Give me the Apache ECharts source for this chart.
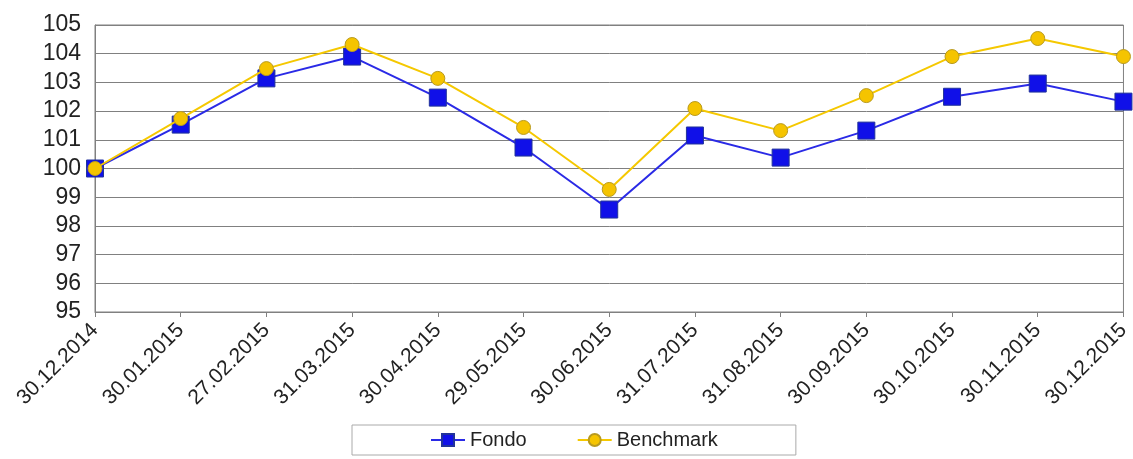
<!DOCTYPE html>
<html>
<head>
<meta charset="utf-8">
<script src="https://cdn.jsdelivr.net/npm/echarts@6/dist/echarts.min.js"></script>
<style>
  html, body { margin: 0; padding: 0; background: #fff; }
  #chart { width: 1133px; height: 459px; }
</style>
</head>
<body>
<div id="chart"></div>
<script>
// date labels
var dates = ['30.12.2014', '30.01.2015', '27.02.2015', '31.03.2015', '30.04.2015', '29.05.2015',
  '30.06.2015', '31.07.2015', '31.08.2015', '30.09.2015', '30.10.2015', '30.11.2015', '30.12.2015'];
// series values
var fondo = [100, 101.53, 103.14, 103.9, 102.47, 100.73, 98.57, 101.15, 100.38, 101.32, 102.5, 102.96, 102.33];
var benchmark = [100, 101.74, 103.48, 104.32, 103.14, 101.43, 99.27, 102.09, 101.32, 102.54, 103.9, 104.53, 103.9];

var myChart = echarts.init(document.getElementById('chart'));
var option = {
  animation: false,
  backgroundColor: '#fff',
  textStyle: { fontFamily: 'Liberation Sans, Arial, sans-serif' },
  grid: { left: 95, right: 8, top: 25, bottom: 147, show: true, borderColor: '#808080', borderWidth: 1 },
  legend: {
    bottom: 4,
    left: 352,
    itemGap: 50,
    itemWidth: 34,
    itemHeight: 15,
    padding: [5, 78, 5, 78],
    borderColor: '#aaa',
    borderWidth: 1,
    textStyle: { fontSize: 20, color: '#222' },
    data: ['Fondo', 'Benchmark']
  },
  xAxis: {
    type: 'category',
    data: dates,
    boundaryGap: false,
    axisLine: { lineStyle: { color: '#808080' } },
    axisTick: { show: true, length: 5, lineStyle: { color: '#808080' } },
    axisLabel: { rotate: 45, fontSize: 21, color: '#222', margin: 15, interval: 0 },
    splitLine: { show: false }
  },
  yAxis: {
    type: 'value',
    min: 95,
    max: 105,
    interval: 1,
    axisLine: { show: true, lineStyle: { color: '#808080' } },
    axisTick: { show: false },
    axisLabel: { fontSize: 23, color: '#222', margin: 14 },
    splitLine: { lineStyle: { color: '#808080', width: 1 } }
  },
  series: [
    {
      name: 'Fondo',
      type: 'line',
      data: fondo,
      symbol: 'rect',
      symbolSize: 17,
      lineStyle: { color: '#2a2ae6', width: 2 },
      itemStyle: { color: '#1010e8', borderColor: '#22339a', borderWidth: 1 },
      z: 2
    },
    {
      name: 'Benchmark',
      type: 'line',
      data: benchmark,
      symbol: 'circle',
      symbolSize: 14,
      lineStyle: { color: '#f5c800', width: 2 },
      itemStyle: { color: '#f5c400', borderColor: '#b89a20', borderWidth: 1 },
      z: 3
    }
  ]
};
myChart.setOption(option);
window.onresize = function () {
  myChart.resize();
};
</script>
</body>
</html>
